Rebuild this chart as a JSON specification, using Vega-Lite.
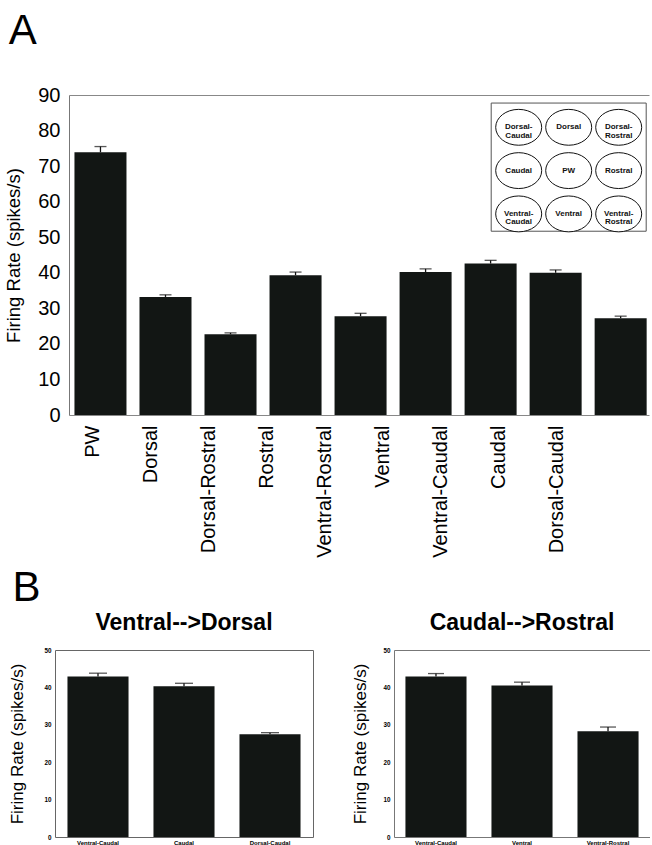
{
  "$schema": "https://vega.github.io/schema/vega-lite/v6.json",
  "background": "white",
  "padding": {"left": 4, "top": 10, "right": 0, "bottom": 0},
  "autosize": {"type": "pad"},
  "config": {
    "font": "Liberation Sans",
    "view": {"stroke": null},
    "axis": {"grid": false, "labelColor": "#000", "titleColor": "#000", "domainColor": "#777", "ticks": false, "labelOverlap": false, "labelFont": "Liberation Sans", "titleFont": "Liberation Sans", "titleFontWeight": "normal"},
    "title": {"color": "#000", "font": "Liberation Sans"}
  },
  "datasets": {
    "panelA": [
      {"region": "PW", "rate": 73.9, "upper": 75.5},
      {"region": "Dorsal", "rate": 33.2, "upper": 33.8},
      {"region": "Dorsal-Rostral", "rate": 22.7, "upper": 23.1},
      {"region": "Rostral", "rate": 39.3, "upper": 40.2},
      {"region": "Ventral-Rostral", "rate": 27.8, "upper": 28.6},
      {"region": "Ventral", "rate": 40.2, "upper": 41.1},
      {"region": "Ventral-Caudal", "rate": 42.6, "upper": 43.5},
      {"region": "Caudal", "rate": 40.0, "upper": 40.8},
      {"region": "Dorsal-Caudal", "rate": 27.2, "upper": 27.8}
    ],
    "panelB1": [
      {"region": "Ventral-Caudal", "rate": 42.9, "upper": 43.8},
      {"region": "Caudal", "rate": 40.3, "upper": 41.1},
      {"region": "Dorsal-Caudal", "rate": 27.5, "upper": 27.9}
    ],
    "panelB2": [
      {"region": "Ventral-Caudal", "rate": 42.9, "upper": 43.7},
      {"region": "Ventral", "rate": 40.5, "upper": 41.4},
      {"region": "Ventral-Rostral", "rate": 28.3, "upper": 29.4}
    ],
    "inset": [
      {"label": "Dorsal-\nCaudal", "col": 0, "row": 0},
      {"label": "Dorsal", "col": 1, "row": 0},
      {"label": "Dorsal-\nRostral", "col": 2, "row": 0},
      {"label": "Caudal", "col": 0, "row": 1},
      {"label": "PW", "col": 1, "row": 1},
      {"label": "Rostral", "col": 2, "row": 1},
      {"label": "Ventral-\nCaudal", "col": 0, "row": 2},
      {"label": "Ventral", "col": 1, "row": 2},
      {"label": "Ventral-\nRostral", "col": 2, "row": 2}
    ],
    "insetBox": [
      {"x0": -0.55, "x1": 2.55, "y0": -0.56, "y1": 2.4}
    ]
  },
  "spacing": 8,
  "vconcat": [
    {
      "width": 594,
      "height": 320,
      "title": {"text": "A", "fontSize": 42, "fontWeight": "normal", "anchor": "start", "frame": "bounds", "dx": 4, "offset": 32},
      "layer": [
        {
          "data": {"name": "panelA"},
          "layer": [
            {
              "mark": {"type": "bar", "color": "#121614"},
              "encoding": {
                "x": {"field": "region", "type": "nominal", "sort": null,
                      "scale": {"range": [14, 594], "paddingInner": 0.2, "paddingOuter": 0.06, "align": 0.7},
                      "axis": {"orient": "top", "labels": false, "ticks": false, "domain": true, "domainColor": "#888", "title": null}},
                "y": {"field": "rate", "type": "quantitative", "scale": {"domain": [0, 90]},
                      "axis": {"values": [0, 10, 20, 30, 40, 50, 60, 70, 80, 90], "offset": -14, "title": "Firing Rate (spikes/s)", "titleFontSize": 18.5, "labelFontSize": 20, "labelPadding": 9, "titlePadding": 14}}
              }
            },
            {
              "mark": {"type": "rule", "color": "#111", "strokeWidth": 1.3},
              "encoding": {
                "x": {"field": "region", "type": "nominal", "sort": null,
                      "axis": {"orient": "top", "labels": false, "ticks": false, "domain": true, "domainColor": "#888", "title": null}},
                "y": {"field": "rate", "type": "quantitative",
                      "axis": {"values": [0, 10, 20, 30, 40, 50, 60, 70, 80, 90], "offset": -14, "title": "Firing Rate (spikes/s)", "titleFontSize": 18.5, "labelFontSize": 20, "labelPadding": 9, "titlePadding": 14}},
                "y2": {"field": "upper"}
              }
            },
            {
              "mark": {"type": "tick", "color": "#111", "size": 12, "thickness": 1.3},
              "encoding": {
                "x": {"field": "region", "type": "nominal", "sort": null,
                      "axis": {"orient": "top", "labels": false, "ticks": false, "domain": true, "domainColor": "#888", "title": null}},
                "y": {"field": "upper", "type": "quantitative",
                      "axis": {"values": [0, 10, 20, 30, 40, 50, 60, 70, 80, 90], "offset": -14, "title": "Firing Rate (spikes/s)", "titleFontSize": 18.5, "labelFontSize": 20, "labelPadding": 9, "titlePadding": 14}}
              }
            }
          ]
        },
        {
          "data": {"name": "panelA"},
          "mark": {"type": "rule", "opacity": 0},
          "encoding": {
            "x": {"field": "region", "type": "nominal", "sort": null,
                  "scale": {"type": "point", "range": [14, 594], "padding": 1.04, "align": 0.2},
                  "axis": {"orient": "bottom", "labelAngle": -90, "labelFontSize": 20, "labelPadding": 10, "ticks": false, "domainColor": "#888", "title": null}}
          }
        },
        {
          "layer": [
            {
              "data": {"name": "insetBox"},
              "mark": {"type": "rect", "fill": "white", "stroke": "#555", "strokeWidth": 1},
              "encoding": {
                "x": {"field": "x0", "type": "quantitative", "scale": {"domain": [-9.274, 2.606], "nice": false, "zero": false}, "axis": null},
                "x2": {"field": "x1"},
                "y": {"field": "y0", "type": "quantitative", "scale": {"domain": [-0.746, 6.644], "nice": false, "zero": false, "reverse": true}, "axis": null},
                "y2": {"field": "y1"}
              }
            },
            {
              "data": {"name": "inset"},
              "mark": {"type": "point", "shape": "M-1,0A1,0.78,0,1,1,1,0A1,0.78,0,1,1,-1,0Z", "size": 2116, "filled": true, "fill": "white", "stroke": "#111", "strokeWidth": 1, "opacity": 1, "fillOpacity": 1},
              "encoding": {
                "x": {"field": "col", "type": "quantitative", "axis": null},
                "y": {"field": "row", "type": "quantitative", "axis": null}
              }
            },
            {
              "data": {"name": "inset"},
              "mark": {"type": "text", "fontSize": 8, "fontWeight": "bold", "lineBreak": "\n", "lineHeight": 8.5, "color": "#111"},
              "encoding": {
                "x": {"field": "col", "type": "quantitative", "axis": null},
                "y": {"field": "row", "type": "quantitative", "axis": null},
                "text": {"field": "label"}
              }
            }
          ]
        }
      ],
      "resolve": {"scale": {"x": "independent", "y": "independent"}, "axis": {"x": "independent", "y": "independent"}}
    },
    {
      "title": {"text": "B", "fontSize": 42, "fontWeight": "normal", "anchor": "start", "frame": "bounds", "dx": 4, "offset": 2},
      "spacing": 37,
      "hconcat": [
        {
          "width": 258,
          "height": 187,
          "title": {"text": "Ventral-->Dorsal", "fontSize": 23, "fontWeight": "bold", "anchor": "middle", "offset": 12},
          "data": {"name": "panelB1"},
          "view": {"stroke": "#666"},
          "layer": [
            {
              "mark": {"type": "bar", "color": "#121614"},
              "encoding": {
                "x": {"field": "region", "type": "nominal", "sort": null,
                      "scale": {"paddingInner": 0.29, "paddingOuter": 0.145},
                      "axis": {"labelAngle": 0, "labelFontSize": 6, "labelFontWeight": "bold", "labelPadding": 2, "domain": false, "title": null}},
                "y": {"field": "rate", "type": "quantitative", "scale": {"domain": [0, 50]},
                      "axis": {"values": [0, 10, 20, 30, 40, 50], "labelFontSize": 6.3, "labelFontWeight": "bold", "labelPadding": 4, "domain": false, "title": "Firing Rate (spikes/s)", "titleFontSize": 17, "titlePadding": 17}}
              }
            },
            {
              "mark": {"type": "rule", "color": "#111", "strokeWidth": 1.3},
              "encoding": {
                "x": {"field": "region", "type": "nominal", "sort": null,
                      "axis": {"labelAngle": 0, "labelFontSize": 6, "labelFontWeight": "bold", "labelPadding": 2, "domain": false, "title": null}},
                "y": {"field": "rate", "type": "quantitative",
                      "axis": {"values": [0, 10, 20, 30, 40, 50], "labelFontSize": 6.3, "labelFontWeight": "bold", "labelPadding": 4, "domain": false, "title": "Firing Rate (spikes/s)", "titleFontSize": 17, "titlePadding": 17}},
                "y2": {"field": "upper"}
              }
            },
            {
              "mark": {"type": "tick", "color": "#111", "size": 18, "thickness": 1.3},
              "encoding": {
                "x": {"field": "region", "type": "nominal", "sort": null,
                      "axis": {"labelAngle": 0, "labelFontSize": 6, "labelFontWeight": "bold", "labelPadding": 2, "domain": false, "title": null}},
                "y": {"field": "upper", "type": "quantitative",
                      "axis": {"values": [0, 10, 20, 30, 40, 50], "labelFontSize": 6.3, "labelFontWeight": "bold", "labelPadding": 4, "domain": false, "title": "Firing Rate (spikes/s)", "titleFontSize": 17, "titlePadding": 17}}
              }
            }
          ]
        },
        {
          "width": 256,
          "height": 187,
          "title": {"text": "Caudal-->Rostral", "fontSize": 23, "fontWeight": "bold", "anchor": "middle", "offset": 12},
          "data": {"name": "panelB2"},
          "layer": [
            {
              "mark": {"type": "bar", "color": "#121614"},
              "encoding": {
                "x": {"field": "region", "type": "nominal", "sort": null,
                      "scale": {"paddingInner": 0.29, "paddingOuter": 0.133},
                      "axis": {"labelAngle": 0, "labelFontSize": 6, "labelFontWeight": "bold", "labelPadding": 2, "domainColor": "#777", "title": null}},
                "y": {"field": "rate", "type": "quantitative", "scale": {"domain": [0, 50]},
                      "axis": {"values": [0, 10, 20, 30, 40, 50], "labelFontSize": 6.3, "labelFontWeight": "bold", "labelPadding": 4, "domainColor": "#777", "title": "Firing Rate (spikes/s)", "titleFontSize": 17, "titlePadding": 13}}
              }
            },
            {
              "mark": {"type": "rule", "color": "#111", "strokeWidth": 1.3},
              "encoding": {
                "x": {"field": "region", "type": "nominal", "sort": null, "axis": null},
                "y": {"field": "rate", "type": "quantitative",
                      "axis": {"values": [0, 10, 20, 30, 40, 50], "labelFontSize": 6.3, "labelFontWeight": "bold", "labelPadding": 4, "domainColor": "#777", "title": "Firing Rate (spikes/s)", "titleFontSize": 17, "titlePadding": 13}},
                "y2": {"field": "upper"}
              }
            },
            {
              "mark": {"type": "tick", "color": "#111", "size": 16, "thickness": 1.3},
              "encoding": {
                "x": {"field": "region", "type": "nominal", "sort": null, "axis": {"orient": "top", "labels": false, "ticks": false, "domainColor": "#777", "title": null}},
                "y": {"field": "upper", "type": "quantitative",
                      "axis": {"values": [0, 10, 20, 30, 40, 50], "labelFontSize": 6.3, "labelFontWeight": "bold", "labelPadding": 4, "domainColor": "#777", "title": "Firing Rate (spikes/s)", "titleFontSize": 17, "titlePadding": 13}}
              }
            }
          ],
          "resolve": {"axis": {"x": "independent"}}
        }
      ]
    }
  ]
}
